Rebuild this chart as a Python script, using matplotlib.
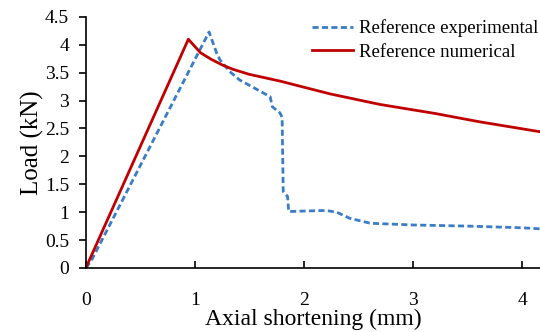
import matplotlib.pyplot as plt

plt.rcParams['font.family'] = ['Liberation Serif', 'DejaVu Serif']

# experimental load-shortening curve (mm, kN)
exp_x = [0, 0.05, 1.13, 1.2, 1.23, 1.32, 1.41, 1.55, 1.69, 1.71, 1.78, 1.80,
         1.81, 1.85, 1.86, 2.0, 2.2, 2.3, 2.42, 2.61, 2.88, 3.0, 3.5, 4.0, 4.17]
exp_y = [0, 0.13, 4.23, 3.85, 3.73, 3.52, 3.37, 3.22, 3.07, 2.89, 2.78, 2.70,
         1.37, 1.28, 1.01, 1.02, 1.03, 1.00, 0.89, 0.80, 0.78, 0.77, 0.75, 0.72, 0.70]

# numerical model
num_x = [0, 0.94, 1.05, 1.15, 1.25, 1.35, 1.5, 1.78, 2.0, 2.24, 2.7, 3.2, 3.61, 4.17]
num_y = [0, 4.10, 3.86, 3.74, 3.64, 3.56, 3.47, 3.35, 3.24, 3.12, 2.93, 2.77, 2.62, 2.44]

x_ticks = [0, 1, 2, 3, 4]
y_ticks = [0, 0.5, 1, 1.5, 2, 2.5, 3, 3.5, 4, 4.5]
y_ticklabels = ['0', '0.5', '1', '1.5', '2', '2.5', '3', '3.5', '4', '4.5']

fig = plt.figure(figsize=(5.4, 3.32), dpi=100)
ax = fig.add_axes([0.159, 0.193, 0.841, 0.756])

ax.plot(exp_x, exp_y, color='#3a7dc6', lw=2, linestyle=(0, (2.2, 1.2)),
        label='Reference experimental')
ax.plot(num_x, num_y, color='#c00000', lw=2, label='Reference numerical')

ax.set_xlim(0, 4.165)
ax.set_ylim(0, 4.5)
ax.set_xticks(x_ticks)
ax.set_yticks(y_ticks)
ax.set_yticklabels(y_ticklabels)

for side in ['top', 'right']:
    ax.spines[side].set_visible(False)
for side in ['left', 'bottom']:
    ax.spines[side].set_linewidth(1.2)

ax.tick_params(axis='y', direction='out', length=5, width=1.2, labelsize=14, pad=7)
ax.tick_params(axis='x', direction='in', length=5, width=1.2, labelsize=14, pad=17)

ax.set_xlabel('Axial shortening (mm)', fontsize=17, labelpad=0)
ax.set_ylabel('Load (kN)', fontsize=18, labelpad=1)

ax.legend(loc='upper right', frameon=False, fontsize=13.5, handlelength=2.2,
          handletextpad=0.3, labelspacing=0.35, borderaxespad=0.0,
          bbox_to_anchor=(1.012, 1.02))

fig.savefig('out.png', dpi=100)
